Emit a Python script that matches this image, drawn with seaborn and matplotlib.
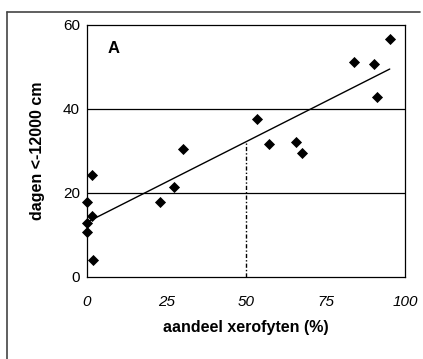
import numpy as np
import pandas as pd
import matplotlib
matplotlib.use("Agg")
import matplotlib.pyplot as plt
import seaborn as sns
from matplotlib.lines import Line2D

# data
xero = [0, 1.6, 0, 0, 1.6, 1.9, 23, 27.3, 30.1, 53.6, 57.2, 65.8, 67.7, 84, 90.3, 91.3, 95.2]
dagen = [17.9, 24.3, 12.9, 10.7, 14.5, 4.0, 17.8, 21.4, 30.5, 37.6, 31.7, 32.2, 29.6, 51.1, 50.7, 42.8, 56.7]
x_ticks = [0, 25, 50, 75, 100]
y_ticks = [0, 20, 40, 60]
threshold = 50

df = pd.DataFrame({"x": xero, "y": dagen})

sns.set_theme(style="white")
plt.rcParams['font.family'] = ['Liberation Sans', 'DejaVu Sans']
plt.rcParams['text.color'] = 'black'
plt.rcParams['axes.labelcolor'] = 'black'
plt.rcParams['xtick.color'] = 'black'
plt.rcParams['ytick.color'] = 'black'

fig = plt.figure(figsize=(4.23, 3.59), dpi=100)
ax = fig.add_axes([87/423, 1-277/359, (405-87)/423, (277-25)/359])

sns.regplot(data=df, x="x", y="y", ax=ax, ci=None, truncate=True, marker="D",
            color="black",
            scatter_kws=dict(s=32, linewidths=0, alpha=1, clip_on=False, zorder=5),
            line_kws=dict(color="black", lw=1.0))

slope, icpt = np.polyfit(df["x"], df["y"], 1)
ax.vlines(threshold, 0, icpt + slope*threshold, colors="black", lw=1.0,
          linestyles=(0, (3, 1.5, 1, 1.5)))

ax.set_xlim(0, 100)
ax.set_ylim(0, 60)
ax.set_xticks(x_ticks)
ax.set_yticks(y_ticks)
ax.set_xticklabels([str(t) for t in x_ticks], style="italic", fontsize=11)
ax.set_yticklabels([str(t) for t in y_ticks], fontsize=11)
for t in [20, 40]:
    ax.axhline(t, color="black", lw=0.9, zorder=0)
for s in ax.spines.values():
    s.set_color("black")
    s.set_linewidth(0.9)
ax.tick_params(axis="x", direction="in", length=3, pad=13)
ax.tick_params(axis="y", direction="inout", length=6, pad=2)
ax.set_xlabel("aandeel xerofyten (%)", fontweight="bold", fontsize=11.5, labelpad=8)
ax.set_ylabel("dagen <-12000 cm", fontweight="bold", fontsize=11.5, labelpad=13)
ax.text(8.5, 54.5, "A", fontweight="bold", fontsize=12, ha="center", va="center")

# outer scan frame
fig.add_artist(Line2D([7/423, 7/423], [0, 1-12/359], color="#444444", lw=1.2))
fig.add_artist(Line2D([7/423, 420/423], [1-12/359, 1-12/359], color="#444444", lw=1.2))

fig.savefig("out.png", dpi=100)
